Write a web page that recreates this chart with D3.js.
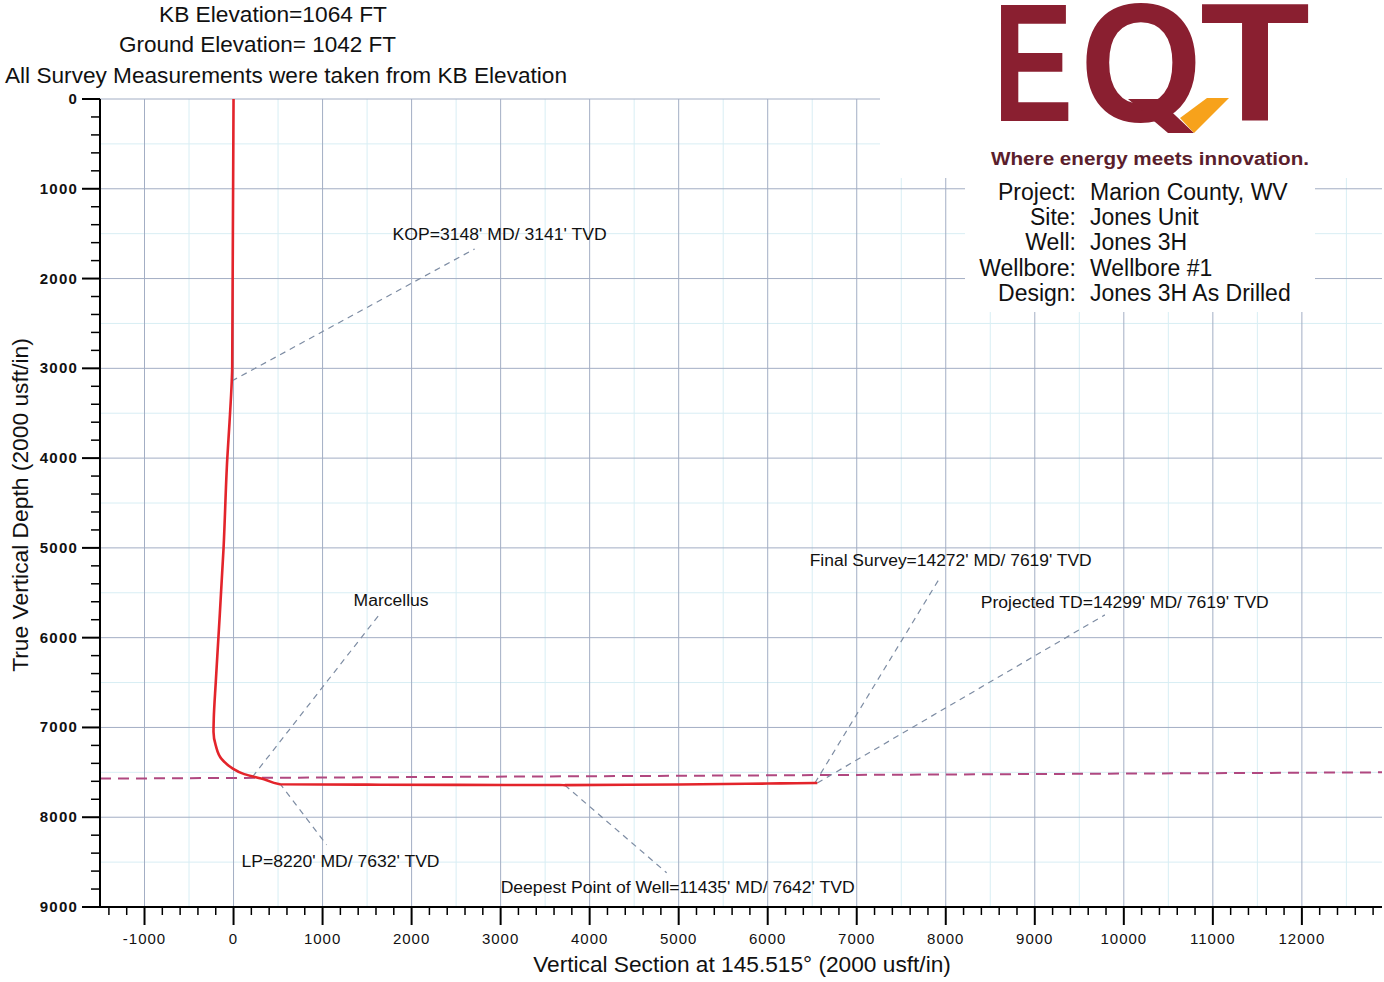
<!DOCTYPE html>
<html><head><meta charset="utf-8">
<script src="https://cdn.jsdelivr.net/npm/d3@7"></script>
<style>
body{margin:0;background:#fff;}
svg{display:block;font-family:"Liberation Sans",Arial,sans-serif;}
</style></head>
<body>
<svg id="c" width="1384" height="982"></svg>
<script>
// ---------- data ----------
const headerLines = ["KB Elevation=1064 FT", "Ground Elevation= 1042 FT", "All Survey Measurements were taken from KB Elevation"];
const infoLabels = ["Project:", "Site:", "Well:", "Wellbore:", "Design:"];
const infoValues = ["Marion County, WV", "Jones Unit", "Jones 3H", "Wellbore  #1", "Jones 3H As Drilled"];
const xTickValues = [-1000,0,1000,2000,3000,4000,5000,6000,7000,8000,9000,10000,11000,12000];
const yTickValues = [0,1000,2000,3000,4000,5000,6000,7000,8000,9000];
// well path: vertical section (usft) and TVD (usft)
const wellVS  = [0, -5, -10, -15, -20, -45, -70, -112, -170, -200, -222, -225, -200, -135, -20, 120, 350, 520, 1500, 2500, 3720, 5000, 6000, 6530, 6557];
const wellTVD = [0, 1000, 2000, 3000, 3141, 3600, 4000, 5000, 6000, 6500, 6900, 7050, 7200, 7350, 7450, 7520, 7580, 7632, 7637, 7640, 7642, 7635, 7625, 7619, 7619];
// target formation line (Marcellus)
const formationVS  = [-1500, 12900];
const formationTVD = [7570, 7500];
// annotations: anchor on path, leader end, label position (data units)
const annoText = ["KOP=3148' MD/ 3141' TVD", "Marcellus", "LP=8220' MD/ 7632' TVD", "Deepest Point of Well=11435' MD/ 7642' TVD", "Final Survey=14272' MD/ 7619' TVD", "Projected TD=14299' MD/ 7619' TVD"];
const annoAnchorVS  = [-20, 213, 517, 3720, 6530, 6557];
const annoAnchorTVD = [3141, 7550, 7620, 7642, 7619, 7619];
const annoEndVS  = [2708, 1652, 1045, 4865, 7933, 9787];
const annoEndTVD = [1670, 5724, 8307, 8619, 5334, 5746];
const annoLabelVS  = [1787, 1348, 90, 3000, 6472, 8393];
const annoLabelTVD = [1570, 5646, 8552, 8842, 5200, 5668];

// ---------- chart ----------
const svg = d3.select("#c");
const x = d3.scaleLinear().domain([-1500, 12900]).range([100, 1382]);
const y = d3.scaleLinear().domain([0, 9000]).range([99, 907]);

// minor grid
const g = svg.append("g");
const minorX = d3.range(-1500, 12901, 500).filter(v => v % 1000 !== 0);
const minorY = d3.range(500, 9000, 500).filter(v => v % 1000 !== 0);
g.selectAll(".mx").data(minorX).join("line")
  .attr("x1", d => x(d)).attr("x2", d => x(d)).attr("y1", y(0)).attr("y2", y(9000))
  .attr("stroke", "#d8eef4").attr("stroke-width", 1);
g.selectAll(".my").data(minorY).join("line")
  .attr("x1", x(-1500)).attr("x2", x(12900)).attr("y1", d => y(d)).attr("y2", d => y(d))
  .attr("stroke", "#d8eef4").attr("stroke-width", 1);
// major grid
g.selectAll(".Mx").data(xTickValues).join("line")
  .attr("x1", d => x(d)).attr("x2", d => x(d)).attr("y1", y(0)).attr("y2", y(9000))
  .attr("stroke", "#a3aec4").attr("stroke-width", 1);
g.selectAll(".My").data(yTickValues.filter(v => v > 0 && v < 9000)).join("line")
  .attr("x1", x(-1500)).attr("x2", x(12900)).attr("y1", d => y(d)).attr("y2", d => y(d))
  .attr("stroke", "#a3aec4").attr("stroke-width", 1);
g.append("line").attr("x1", x(-1500)).attr("x2", x(12900)).attr("y1", y(0)).attr("y2", y(0))
  .attr("stroke", "#a3aec4").attr("stroke-width", 1);

// white area behind logo / info
svg.append("rect").attr("x", 880).attr("y", 0).attr("width", 504).attr("height", 178).attr("fill", "#fff");
svg.append("rect").attr("x", 965).attr("y", 170).attr("width", 350).attr("height", 142).attr("fill", "#fff");

// formation line
svg.append("path")
  .attr("d", d3.line()(formationVS.map((v, i) => [x(v), y(formationTVD[i])])))
  .attr("fill", "none").attr("stroke", "#b04880").attr("stroke-width", 2).attr("stroke-dasharray", "11,7");

// leader lines
svg.selectAll(".lead").data(annoText).join("line")
  .attr("x1", (d, i) => x(annoAnchorVS[i])).attr("y1", (d, i) => y(annoAnchorTVD[i]))
  .attr("x2", (d, i) => x(annoEndVS[i])).attr("y2", (d, i) => y(annoEndTVD[i]))
  .attr("stroke", "#7d8ca3").attr("stroke-width", 1.2).attr("stroke-dasharray", "6,5");

// well path
svg.append("path")
  .attr("d", d3.line().curve(d3.curveMonotoneY)(wellVS.map((v, i) => [x(v), y(wellTVD[i])])).toString())
  .attr("fill", "none").attr("stroke", "#e3242b").attr("stroke-width", 2.6);

// annotation labels
const annoWidth = [214, 75, 198, 354, 282, 288];
svg.selectAll(".lab").data(annoText).join("text")
  .attr("x", (d, i) => x(annoLabelVS[i])).attr("y", (d, i) => y(annoLabelTVD[i]))
  .attr("font-size", 16).attr("fill", "#111")
  .attr("textLength", (d, i) => annoWidth[i]).attr("lengthAdjust", "spacingAndGlyphs")
  .text(d => d);

// axes
const xAxis = svg.append("g").attr("transform", `translate(0,${y(9000)})`);
xAxis.append("line").attr("x1", x(-1500)).attr("x2", x(12900)).attr("stroke", "#000").attr("stroke-width", 2);
xAxis.selectAll(".xm").data(d3.range(-1400, 12901, 200).filter(v => v % 1000 !== 0)).join("line")
  .attr("x1", d => x(d)).attr("x2", d => x(d)).attr("y1", 0).attr("y2", 8).attr("stroke", "#000").attr("stroke-width", 1.5);
xAxis.selectAll(".xM").data(xTickValues).join("line")
  .attr("x1", d => x(d)).attr("x2", d => x(d)).attr("y1", 0).attr("y2", 18).attr("stroke", "#000").attr("stroke-width", 2);
xAxis.selectAll(".xl").data(xTickValues).join("text")
  .attr("x", d => x(d)).attr("y", 37).attr("text-anchor", "middle")
  .attr("font-size", 15).attr("letter-spacing", 1).attr("fill", "#111").text(d => d);

const yAxis = svg.append("g").attr("transform", `translate(${x(-1500)},0)`);
yAxis.append("line").attr("y1", y(0)).attr("y2", y(9000)).attr("stroke", "#000").attr("stroke-width", 2);
yAxis.selectAll(".ym").data(d3.range(200, 9000, 200).filter(v => v % 1000 !== 0)).join("line")
  .attr("y1", d => y(d)).attr("y2", d => y(d)).attr("x1", 0).attr("x2", -9).attr("stroke", "#000").attr("stroke-width", 1.5);
yAxis.selectAll(".yM").data(yTickValues).join("line")
  .attr("y1", d => y(d)).attr("y2", d => y(d)).attr("x1", 0).attr("x2", -18).attr("stroke", "#000").attr("stroke-width", 2);
yAxis.selectAll(".yl").data(yTickValues).join("text")
  .attr("x", -22).attr("y", d => y(d) + 5).attr("text-anchor", "end")
  .attr("font-size", 15).attr("font-weight", "bold").attr("letter-spacing", 1.2).attr("fill", "#111").text(d => d);

// axis titles
svg.append("text").attr("x", 742).attr("y", 972).attr("text-anchor", "middle")
  .attr("font-size", 22.7).attr("fill", "#111").text("Vertical Section at 145.515° (2000 usft/in)");
svg.append("text").attr("transform", "translate(28,505) rotate(-90)").attr("text-anchor", "middle")
  .attr("font-size", 22.8).attr("fill", "#111").text("True Vertical Depth (2000 usft/in)");

// header
const hx = [159, 119, 5];
const hy = [22, 52, 83];
const hw = [228, 277, 562];
svg.selectAll(".hdr").data(headerLines).join("text")
  .attr("x", (d, i) => hx[i]).attr("y", (d, i) => hy[i])
  .attr("font-size", 22).attr("fill", "#111")
  .attr("textLength", (d, i) => hw[i]).attr("lengthAdjust", "spacingAndGlyphs").text(d => d);

// logo
const logo = svg.append("g").attr("fill", "#8a1f30").attr("font-weight", "bold").attr("font-size", 168);
logo.append("text").attr("x", 993).attr("y", 121).attr("textLength", 80).attr("lengthAdjust", "spacingAndGlyphs").text("E");
logo.append("text").attr("x", 1080).attr("y", 121).attr("textLength", 122).attr("lengthAdjust", "spacingAndGlyphs").text("O");
logo.append("text").attr("x", 1200).attr("y", 121).attr("textLength", 110).attr("lengthAdjust", "spacingAndGlyphs").text("T");
svg.append("polygon").attr("points", "1128,99 1158,99 1194,133 1168,133").attr("fill", "#8a1f30");
svg.append("polygon").attr("points", "1180,118 1207,98 1229,98 1194,133").attr("fill", "#f7a21b");
svg.append("text").attr("x", 991).attr("y", 165)
  .attr("font-size", 18).attr("font-weight", "bold").attr("fill", "#5b1e2c")
  .attr("textLength", 318).attr("lengthAdjust", "spacingAndGlyphs").text("Where energy meets innovation.");

// info block
const iy = [200, 225, 250, 276, 301];
svg.selectAll(".il").data(infoLabels).join("text")
  .attr("x", 1076).attr("y", (d, i) => iy[i]).attr("text-anchor", "end")
  .attr("font-size", 23).attr("fill", "#111").text(d => d);
svg.selectAll(".iv").data(infoValues).join("text")
  .attr("x", 1090).attr("y", (d, i) => iy[i])
  .attr("font-size", 23).attr("fill", "#111").text(d => d);
</script>
</body></html>
